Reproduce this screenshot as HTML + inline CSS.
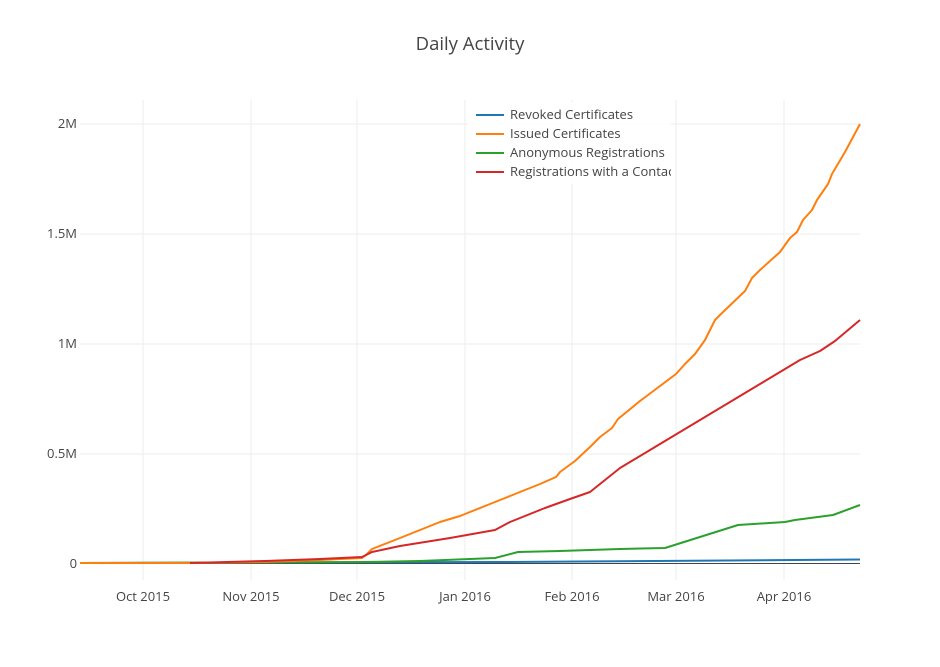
<!DOCTYPE html>
<html><head><meta charset="utf-8"><style>body{margin:0;background:#fff}svg{display:block}text{font-family:"Open Sans","Liberation Sans",sans-serif;fill:#444}</style></head>
<body>
<svg width="940" height="667" viewBox="0 0 940 667">
<defs><clipPath id="lc"><rect x="468" y="102" width="203" height="82"/></clipPath></defs>
<text x="470" y="50" font-size="18.5" text-anchor="middle">Daily Activity</text>
<g stroke="#eee" stroke-width="1">
<line x1="143" y1="100" x2="143" y2="580"/><line x1="251" y1="100" x2="251" y2="580"/><line x1="357" y1="100" x2="357" y2="580"/><line x1="465" y1="100" x2="465" y2="580"/><line x1="572" y1="100" x2="572" y2="580"/><line x1="676" y1="100" x2="676" y2="580"/><line x1="784" y1="100" x2="784" y2="580"/>
<line x1="80" y1="124" x2="860" y2="124"/><line x1="80" y1="234" x2="860" y2="234"/><line x1="80" y1="344" x2="860" y2="344"/><line x1="80" y1="454" x2="860" y2="454"/>
</g>
<line x1="80" y1="563.5" x2="860" y2="563.5" stroke="#444" stroke-width="1"/>
<g font-size="13" text-anchor="end">
<text x="77" y="128">2M</text><text x="77" y="238">1.5M</text><text x="77" y="348">1M</text><text x="77" y="458">0.5M</text><text x="77" y="568">0</text>
</g>
<g font-size="13" text-anchor="middle">
<text x="143" y="601">Oct 2015</text><text x="251" y="601">Nov 2015</text><text x="357" y="601">Dec 2015</text><text x="465" y="601">Jan 2016</text><text x="572" y="601">Feb 2016</text><text x="676" y="601">Mar 2016</text><text x="784" y="601">Apr 2016</text>
</g>
<g fill="none" stroke-width="2" stroke-linejoin="round">
<polyline stroke="#1f77b4" points="80,563 500,562 655,561 860,559.5"/>
<polyline stroke="#2ca02c" points="80,563 365,562 420,561 495,558 518,552 560,551 620,549 665,548 738,525 785,522 795,520 833,515 860,505"/>
<polyline stroke="#ff7f0e" points="80,563 190,563 260,562 320,560 362,558 366,555 372,549 395,540 420,530 440,522 460,516 490,504 515,494 540,484 556,477 560,472 575,461 590,447 600,437 612,428 618,419 640,401 660,386 676,374 685,364 695,354 705,340 715,320 722,313 745,291 752,278 760,270 780,252 790,238 797,232 803,220 812,210 817,200 828,184 832,174 845,152 860,124"/>
<polyline stroke="#d62728" points="190,563 265,561 320,559 362,557 372,552 400,546 450,538 495,530 510,522 545,508 570,499 590,492 605,480 620,468 635,459 660,444 680,432 690,426 720,408 760,384 800,360 820,351 835,341 860,320"/>
</g>
<g clip-path="url(#lc)">
<rect x="468" y="102" width="203" height="82" fill="#fff" opacity="0.9"/>
<g stroke-width="2"><line x1="476" y1="115" x2="504" y2="115" stroke="#1f77b4"/><line x1="476" y1="134" x2="504" y2="134" stroke="#ff7f0e"/><line x1="476" y1="153" x2="504" y2="153" stroke="#2ca02c"/><line x1="476" y1="172" x2="504" y2="172" stroke="#d62728"/></g>
<g font-size="13"><text x="510" y="119">Revoked Certificates</text><text x="510" y="138">Issued Certificates</text><text x="510" y="157">Anonymous Registrations</text><text x="510" y="176">Registrations with a Contact</text></g>
</g>
</svg>
</body></html>
